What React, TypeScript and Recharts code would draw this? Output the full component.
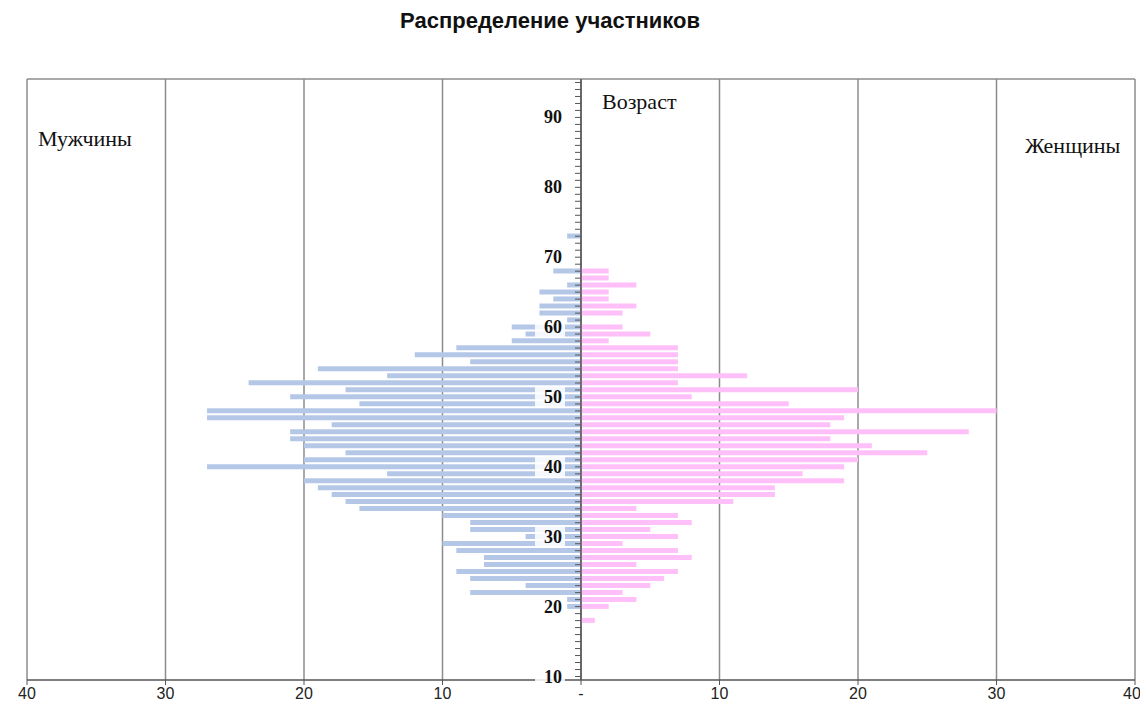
import React from 'react';
import {
    BarChart,
    Bar,
    XAxis,
    YAxis,
    CartesianGrid,
    ReferenceLine
} from 'recharts';

const CHART_W = 1140;
const CHART_H = 706;
const MARGIN = { top: 79, right: 5, bottom: 0, left: 26 };
const Y_AXIS_W = 1;
const PLOT_LEFT = MARGIN.left + Y_AXIS_W;
const CENTER_X = PLOT_LEFT + (CHART_W - PLOT_LEFT - MARGIN.right) / 2;

// ages 10..95, one bar per year
const ages = Array.from({ length: 86 }, (_, i) => 10 + i);

// men, by age starting at 10
const menValues = [
    0, 0, 0, 0, 0, 0, 0, 0, 0, 0,       // 10-19
    1, 1, 8, 4, 8, 9, 7, 7, 9, 10,      // 20-29
    4, 8, 8, 10, 16, 17, 18, 19, 20, 14, // 30-39
    27, 20, 17, 20, 21, 21, 18, 27, 27, 16, // 40-49
    21, 17, 24, 14, 19, 8, 12, 9, 5, 4, // 50-59
    5, 1, 3, 3, 2, 3, 1, 0, 2, 0,       // 60-69
    0, 0, 0, 1, 0, 0, 0, 0, 0, 0,       // 70-79
    0, 0, 0, 0, 0, 0, 0, 0, 0, 0,       // 80-89
    0, 0, 0, 0, 0, 0                    // 90-95
];

// women, by age starting at 10
const womenValues = [
    0, 0, 0, 0, 0, 0, 0, 0, 1, 0,       // 10-19
    2, 4, 3, 5, 6, 7, 4, 8, 7, 3,       // 20-29
    7, 5, 8, 7, 4, 11, 14, 14, 19, 16,  // 30-39
    19, 20, 25, 21, 18, 28, 18, 19, 30, 15, // 40-49
    8, 20, 7, 12, 7, 7, 7, 7, 2, 5,     // 50-59
    3, 0, 3, 4, 2, 2, 4, 2, 2, 0,       // 60-69
    0, 0, 0, 0, 0, 0, 0, 0, 0, 0,       // 70-79
    0, 0, 0, 0, 0, 0, 0, 0, 0, 0,       // 80-89
    0, 0, 0, 0, 0, 0                    // 90-95
];

const xTicks = [-40, -30, -20, -10, 0, 10, 20, 30, 40];
const ageLabels = [10, 20, 30, 40, 50, 60, 70, 80, 90];

const data = ages.map((age, i) => ({
    age,
    men: -menValues[i],
    women: womenValues[i]
}));

const serif = '"Liberation Serif", "Times New Roman", serif';
const sans = '"Liberation Sans", Arial, sans-serif';

function renderAgeTick(props: any) {
    const { y, payload } = props;
    const age = payload.value;
    const showLabel = ageLabels.includes(age);
    return (
        <g key={`age-${age}`}>
            <line x1={CENTER_X - 6} x2={CENTER_X} y1={y} y2={y} stroke="#555" strokeWidth={1} />
            {showLabel && (
                <g>
                    <rect x={CENTER_X - 46} y={y - 10} width={30} height={20} fill="#fff" fillOpacity={0.85} />
                    <text
                        x={CENTER_X - 19}
                        y={y + 6}
                        textAnchor="end"
                        fontFamily={serif}
                        fontWeight="bold"
                        fontSize={18}
                        fill="#111"
                    >
                        {age}
                    </text>
                </g>
            )}
        </g>
    );
}

export default function App() {
    return (
        <div style={{ position: 'relative', width: CHART_W, height: CHART_H, background: '#fff' }}>
            <style>{`body { margin: 0; }`}</style>
            <div style={{ position: 'absolute', left: 0, width: 1100, top: 8, textAlign: 'center', fontFamily: sans, fontWeight: 'bold', fontSize: 22, color: '#111' }}>
                Распределение участников
            </div>
            <BarChart
                width={CHART_W}
                height={CHART_H}
                data={data}
                layout="vertical"
                stackOffset="sign"
                barCategoryGap={0.8}
                margin={MARGIN}
            >
                <CartesianGrid
                    stroke="#8c8c8c"
                    strokeWidth={1.5}
                    horizontalCoordinatesGenerator={({ offset }: any) => [offset.top]}
                />
                <XAxis
                    type="number"
                    domain={[-40, 40]}
                    ticks={xTicks}
                    height={26}
                    tickFormatter={(v) => (v === 0 ? '-' : String(Math.abs(v)))}
                    tick={{ fontFamily: sans, fontSize: 16, fill: '#222' }}
                    axisLine={{ stroke: '#555', strokeWidth: 1.5 }}
                    tickLine={{ stroke: '#555' }}
                    tickSize={5}
                    tickMargin={3}
                />
                <Bar dataKey="men" stackId="a" fill="#b4c7e7" isAnimationActive={false} />
                <Bar dataKey="women" stackId="a" fill="#ffc0fa" isAnimationActive={false} />
                <ReferenceLine x={0} stroke="#555" strokeWidth={1.5} />
                <YAxis
                    type="category"
                    dataKey="age"
                    reversed
                    width={Y_AXIS_W}
                    interval={0}
                    axisLine={false}
                    tickLine={false}
                    tick={renderAgeTick}
                />
            </BarChart>
            <div style={{ position: 'absolute', left: 602, top: 89, fontFamily: serif, fontSize: 22, color: '#111' }}>Возраст</div>
            <div style={{ position: 'absolute', left: 38, top: 126, fontFamily: serif, fontSize: 22, color: '#111' }}>Мужчины</div>
            <div style={{ position: 'absolute', left: 1025, top: 133, fontFamily: serif, fontSize: 22, color: '#111' }}>Женщины</div>
        </div>
    );
}
